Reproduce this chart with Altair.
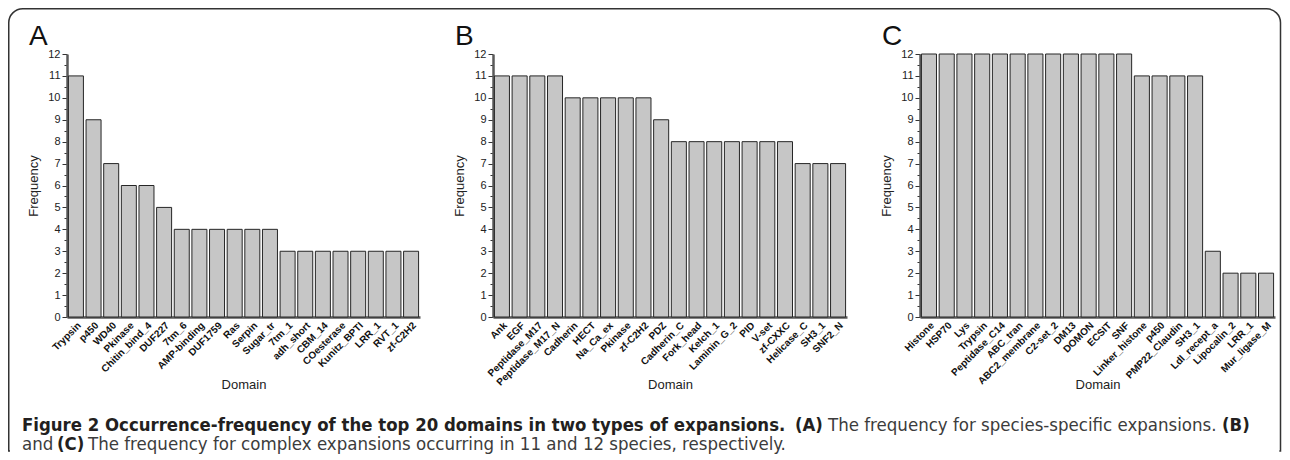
import altair as alt
import pandas as pd

# ---------------- data ----------------
domains_a = ["Trypsin", "p450", "WD40", "Pkinase", "Chitin_bind_4", "DUF227", "7tm_6",
             "AMP-binding", "DUF1759", "Ras", "Serpin", "Sugar_tr", "7tm_1", "adh_short",
             "CBM_14", "COesterase", "Kunitz_BPTI", "LRR_1", "RVT_1", "zf-C2H2"]
freq_a = [11, 9, 7, 6, 6, 5, 4, 4, 4, 4, 4, 4, 3, 3, 3, 3, 3, 3, 3, 3]

domains_b = ["Ank", "EGF", "Peptidase_M17", "Peptidase_M17_N", "Cadherin", "HECT", "Na_Ca_ex",
             "Pkinase", "zf-C2H2", "PDZ", "Cadherin_C", "Fork_head", "Kelch_1", "Laminin_G_2",
             "PID", "V-set", "zf-CXXC", "Helicase_C", "SH3_1", "SNF2_N"]
freq_b = [11, 11, 11, 11, 10, 10, 10, 10, 10, 9, 8, 8, 8, 8, 8, 8, 8, 7, 7, 7]

domains_c = ["Histone", "HSP70", "Lys", "Trypsin", "Peptidase_C14", "ABC_tran", "ABC2_membrane",
             "C2-set_2", "DM13", "DOMON", "ECSIT", "SNF", "Linker_histone", "p450",
             "PMP22_Claudin", "SH3_1", "Ldl_recept_a", "Lipocalin_2", "LRR_1", "Mur_ligase_M"]
freq_c = [12, 12, 12, 12, 12, 12, 12, 12, 12, 12, 12, 12, 11, 11, 11, 11, 3, 2, 2, 2]

panel_labels = ["A", "B", "C"]

caption_bold_1 = "Figure 2 Occurrence-frequency of the top 20 domains in two types of expansions."
caption_a = "(A)"
caption_a_text = "The frequency for species-specific expansions."
caption_b = "(B)"
caption_and = "and"
caption_c = "(C)"
caption_c_text = "The frequency for complex expansions occurring in 11 and 12 species, respectively."

# ---------------- styling ----------------
FONT = "Liberation Sans, Arial, sans-serif"
CAP_FONT = "DejaVu Sans Condensed, Liberation Sans Narrow, Liberation Sans, sans-serif"
PLOT_H = 263
BAR_FILL = "#c6c6c6"
BAR_STROKE = "#262626"
AXIS_COLOR = "#5a5a5a"

tick_vals = [i / 2 for i in range(25)]


def bars(names, freqs):
    df = pd.DataFrame({"Domain": names, "Frequency": freqs})
    return (
        alt.Chart(df)
        .mark_bar(fill=BAR_FILL, stroke=BAR_STROKE, strokeWidth=1)
        .encode(
            x=alt.X(
                "Domain:N",
                sort=None,
                scale=alt.Scale(paddingInner=0.15, paddingOuter=0.08),
                axis=alt.Axis(
                    title="Domain",
                    labelAngle=-45,
                    labelFontWeight="bold",
                    labelFontSize=10,
                    labelColor="#111",
                    labelPadding=3,
                    ticks=False,
                    domainColor=AXIS_COLOR,
                    domainWidth=2.5,
                    titleFontSize=13,
                    titleFontWeight="normal",
                    titleColor="#222",
                    titleY=67,
                    titleBaseline="middle",
                ),
            ),
            y=alt.Y(
                "Frequency:Q",
                scale=alt.Scale(domain=[0, 12], nice=False),
                axis=alt.Axis(
                    title="Frequency",
                    values=tick_vals,
                    labelExpr="datum.value % 1 === 0 ? '' + datum.value : ''",
                    labelOverlap=False,
                    labelFontSize=11,
                    labelColor="#222",
                    labelPadding=2,
                    tickSize={"condition": {"test": "datum.value % 1 === 0", "value": 5}, "value": 3},
                    tickColor="#333",
                    domainColor=AXIS_COLOR,
                    domainWidth=2.5,
                    grid=False,
                    titleFontSize=13,
                    titleFontWeight="normal",
                    titleColor="#222",
                    titleX=-34,
                    titleY=PLOT_H / 2,
                    titleBaseline="middle",
                    titleAngle=-90,
                ),
            ),
        )
    )


base = alt.Chart(pd.DataFrame({"k": [0]}))


def letter(text):
    return base.mark_text(
        text=text, font=FONT, fontSize=28, color="#111",
        align="left", baseline="alphabetic",
    ).encode(x=alt.value(-38), y=alt.value(-9))


def seg(text, x, y, bold):
    return base.mark_text(
        text=text,
        font=CAP_FONT,
        fontSize=18.4 if bold else 18.5,
        fontWeight="bold" if bold else "normal",
        color="#231f20" if bold else "#3c3c3c",
        align="left",
        baseline="middle",
    ).encode(x=alt.value(x), y=alt.value(y))


# offsets relative to panel A's plot origin (page 67, 54)
OX, OY = 67, 54
L1 = 425 - OY
L2 = 444 - OY

border = base.mark_rect(
    fill="white", fillOpacity=0, stroke="#333", strokeWidth=1.5,
    cornerRadiusTopLeft=14, cornerRadiusTopRight=14,
).encode(x=alt.value(-58.25), x2=alt.value(1213.5), y=alt.value(-45.25), y2=alt.value(451 - OY))
border_cut = base.mark_rule(color="white", strokeWidth=2.5).encode(
    x=alt.value(-57), x2=alt.value(1212.3), y=alt.value(451 - OY)
)

pa = alt.layer(
    bars(domains_a, freq_a),
    letter(panel_labels[0]),
    border,
    border_cut,
    seg(caption_bold_1, 22 - OX, L1, True),
    seg(caption_a, 795 - OX, L1, True),
    seg(caption_a_text, 828 - OX, L1, False),
    seg(caption_b, 1222 - OX, L1, True),
    seg(caption_and, 22 - OX, L2, False),
    seg(caption_c, 57 - OX, L2, True),
    seg(caption_c_text, 88 - OX, L2, False),
).properties(width=353, height=PLOT_H)

pb = alt.layer(bars(domains_b, freq_b), letter(panel_labels[1])).properties(width=354, height=PLOT_H)
pc = alt.layer(bars(domains_c, freq_c), letter(panel_labels[2])).properties(width=355, height=PLOT_H)

chart = (
    alt.hconcat(pa, pb, pc, spacing=73, bounds="flush")
    .properties(padding=0)
    .configure(font=FONT)
    .configure_view(strokeWidth=0)
)

chart.save("out.html", embed_options={"renderer": "svg", "actions": False})
